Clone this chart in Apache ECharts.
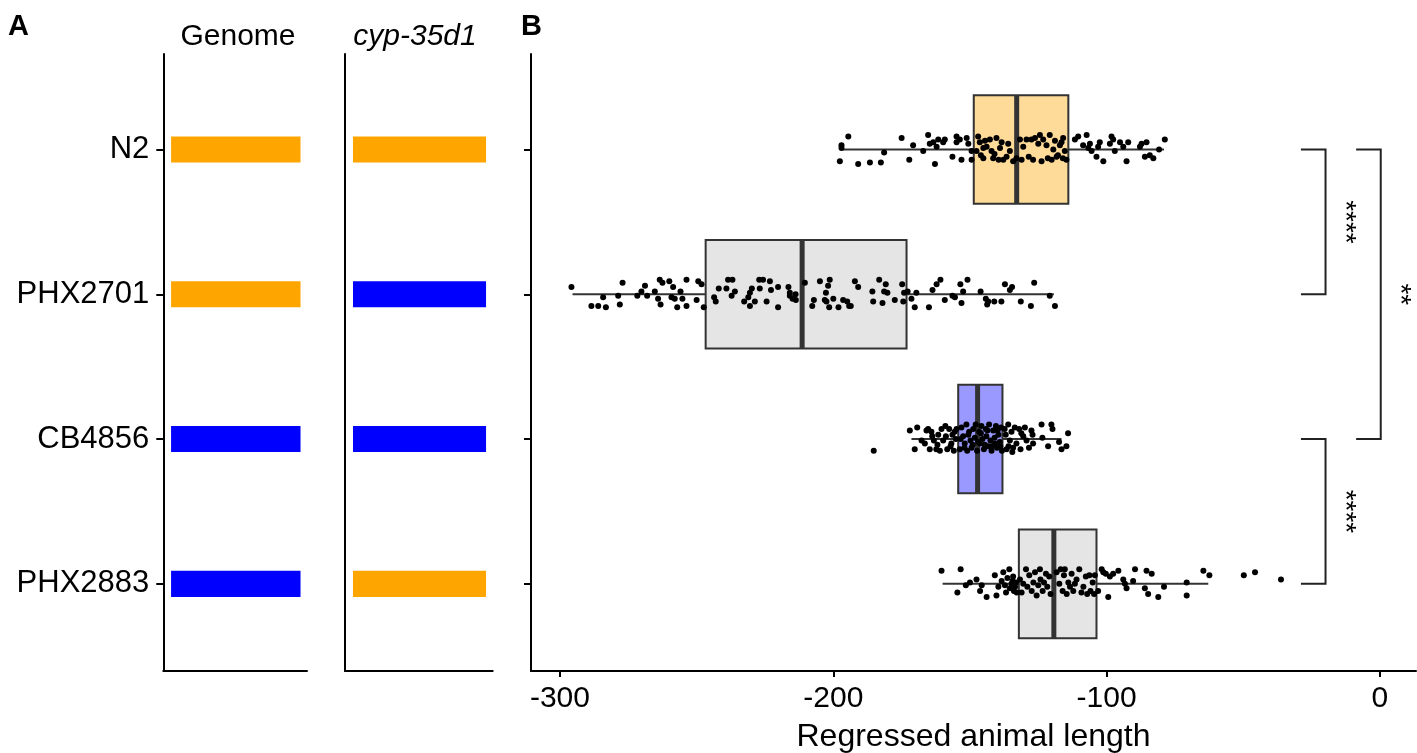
<!DOCTYPE html>
<html>
<head>
<meta charset="utf-8">
<script src="https://cdn.jsdelivr.net/npm/echarts@6/dist/echarts.min.js"></script>
<style>
  html, body { margin: 0; padding: 0; background: #ffffff; }
  #chart { width: 1417px; height: 753px; }
</style>
</head>
<body>
<div id="chart"></div>
<script>
// ---------------- data ----------------
const strains = ['N2', 'PHX2701', 'CB4856', 'PHX2883'];

// background genotype and cyp-35d1 allele for each strain
const genomeAllele = ['N2', 'N2', 'CB4856', 'CB4856'];
const cypAllele = ['N2', 'CB4856', 'CB4856', 'N2'];

// box-plot summary per strain (regressed animal length)
const whiskerLow  = [-196.5, -295.4, -171.4, -160.0];
const quartile1   = [-148.6, -246.7, -154.3, -132.1];
const medianVal   = [-132.9, -211.4, -147.2, -119.3];
const quartile3   = [-114.0, -173.2, -138.1, -103.7];
const whiskerHigh = [-79.0, -119.3, -116.5, -62.8];

// individual animals: [regressed length, vertical jitter in category units]
const ptsN2 = [
  [-197.0,-0.03],[-197.0,-0.01],[-194.5,-0.09],[-197.6,0.08],[-190.9,0.10],[-186.6,0.09],[-182.6,0.09],
  [-181.4,0.02],[-175.0,-0.08],[-172.2,0.07],[-170.8,-0.03],[-167.1,0.01],[-165.3,-0.10],[-164.7,-0.04],
  [-163.4,-0.05],[-162.8,0.10],[-162.2,-0.02],[-161.6,-0.07],[-159.8,-0.05],[-159.2,-0.07],[-156.4,0.05],
  [-154.9,-0.09],[-154.9,-0.05],[-153.7,-0.07],[-153.1,0.07],[-151.2,-0.08],[-150.6,-0.04],[-149.4,0.01],
  [-149.4,0.07],[-147.0,-0.09],[-146.4,-0.05],[-145.1,-0.01],[-143.9,-0.02],[-142.7,-0.07],[-141.5,0.06],
  [-140.3,-0.08],[-139.0,-0.01],[-137.8,0.07],[-136.6,0.05],[-135.4,0.01],[-134.2,0.08],[-131.7,-0.07],
  [-131.1,0.07],[-129.3,-0.07],[-127.5,-0.07],[-126.2,-0.08],[-124.4,-0.10],[-123.8,0.08],[-123.2,-0.07],
  [-122.0,-0.03],[-120.8,-0.10],[-120.1,0.07],[-119.5,0.00],[-118.3,0.05],[-117.1,-0.03],[-115.9,-0.08],
  [-115.3,0.01],[-114.7,0.07],[-116.5,-0.05],[-145.1,0.06],[-142.1,0.01],[-138.4,-0.05],[-147.6,0.01],
  [-146.0,0.04],[-144.5,-0.06],[-141.0,0.03],[-139.5,0.07],[-136.0,-0.04],[-133.0,0.06],[-130.5,-0.02],
  [-128.5,0.05],[-126.9,0.07],[-125.0,-0.04],[-121.5,0.06],[-118.9,-0.06],[-117.8,0.04],[-116.0,0.06],
  [-111.6,-0.07],[-110.4,-0.09],[-108.6,-0.03],[-107.3,-0.10],[-106.7,-0.01],[-106.1,-0.04],[-105.5,0.01],
  [-103.7,0.05],[-103.1,-0.02],[-102.5,-0.05],[-101.2,0.08],[-98.8,-0.04],[-98.2,-0.09],[-97.6,-0.07],
  [-97.0,0.01],[-95.1,-0.05],[-93.9,-0.02],[-92.7,0.08],[-92.1,-0.05],[-87.8,-0.02],[-87.2,-0.04],
  [-86.0,0.05],[-85.4,-0.05],[-84.2,0.04],[-82.9,0.06],[-80.8,0.00],[-78.7,-0.07]
];
const ptsPHX2701 = [
  [-295.8,-0.05],[-288.5,0.08],[-286.0,0.08],[-284.2,0.02],[-283.2,0.09],[-278.7,0.01],[-278.1,0.07],
  [-277.1,-0.08],[-271.7,0.01],[-270.2,-0.02],[-268.9,-0.06],[-268.1,0.01],[-265.3,-0.02],[-264.1,0.03],
  [-263.5,-0.10],[-263.2,0.07],[-262.5,-0.08],[-260.0,-0.09],[-259.2,0.02],[-258.6,-0.05],[-258.0,0.03],
  [-257.1,0.09],[-255.9,-0.02],[-255.2,0.03],[-253.7,-0.10],[-253.7,0.08],[-250.0,0.04],[-249.4,-0.09],
  [-248.2,-0.07],[-247.4,0.09],[-243.6,0.02],[-243.0,0.05],[-241.9,-0.04],[-239.1,-0.04],[-238.5,-0.10],
  [-236.9,-0.10],[-237.2,0.01],[-236.0,-0.02],[-232.6,0.05],[-231.1,0.02],[-230.5,-0.01],[-230.5,0.08],
  [-229.8,-0.04],[-228.7,0.05],[-227.1,-0.10],[-225.7,-0.10],[-226.9,-0.04],[-224.4,0.05],[-223.2,-0.09],
  [-222.8,-0.03],[-220.2,-0.05],[-220.2,0.09],[-216.4,-0.05],[-215.9,-0.01],[-215.9,0.01],[-214.9,0.03],
  [-213.8,0.00],[-213.7,0.04],[-210.4,-0.08],[-207.1,0.04],[-207.7,0.08],[-204.9,-0.09],[-201.3,-0.10],
  [-201.9,-0.06],[-202.7,-0.01],[-203.1,0.04],[-202.5,0.05],[-201.5,0.09],[-200.0,0.03],[-198.1,0.09],
  [-196.4,0.04],[-194.9,0.05],[-194.2,0.08],[-193.6,0.08],[-192.1,-0.09],[-190.9,-0.05],[-185.7,-0.02],
  [-185.4,0.05],[-183.2,-0.10],[-181.4,-0.02],[-180.8,-0.07],[-182.0,0.06],[-180.2,-0.01],[-177.5,0.04],
  [-174.8,-0.07],[-174.4,0.05],[-174.1,-0.01],[-172.8,-0.02],[-171.4,0.03],[-170.2,0.09],[-169.6,-0.01],
  [-165.0,0.09],[-163.7,-0.03],[-162.2,-0.07],[-160.8,-0.10],[-159.2,0.04],[-156.4,0.01],[-155.5,0.02],
  [-153.5,-0.07],[-153.1,0.06],[-152.5,-0.02],[-150.9,-0.10],[-146.1,-0.02],[-144.2,0.03],[-143.7,0.07],
  [-143.3,0.05],[-141.1,0.05],[-138.5,0.05],[-137.2,-0.07],[-135.4,-0.03],[-134.6,-0.05],[-131.4,0.05],
  [-127.7,0.08],[-126.5,-0.08],[-120.8,0.01],[-118.9,0.08]
];
const ptsCB4856 = [
  [-185.2,0.08],[-172.0,-0.06],[-170.2,0.07],[-169.3,-0.08],[-167.7,0.01],[-166.5,0.03],[-165.9,-0.06],
  [-165.3,-0.07],[-164.7,0.07],[-164.1,-0.05],[-163.2,0.01],[-162.3,0.07],[-161.6,-0.03],[-161.0,0.08],
  [-160.4,-0.07],[-159.8,0.01],[-158.8,-0.02],[-158.3,0.07],[-157.6,-0.07],[-157.1,0.05],[-156.4,-0.03],
  [-155.9,0.08],[-155.2,0.00],[-154.9,-0.07],[-153.7,0.07],[-153.1,-0.08],[-152.5,-0.02],[-151.9,0.03],
  [-151.3,-0.10],[-151.0,0.08],[-150.3,-0.05],[-149.8,0.01],[-149.4,0.06],[-148.8,-0.07],[-148.2,-0.01],
  [-147.9,-0.10],[-147.4,0.08],[-146.6,-0.05],[-146.4,0.03],[-145.8,-0.09],[-145.4,0.00],[-144.9,0.07],
  [-144.2,-0.07],[-144.0,-0.02],[-143.3,0.05],[-143.0,-0.10],[-142.5,0.01],[-142.1,0.08],[-141.5,-0.06],
  [-141.0,-0.01],[-140.5,-0.09],[-140.1,0.06],[-139.6,-0.03],[-139.1,0.02],[-138.6,-0.08],[-138.3,0.08],
  [-137.3,-0.07],[-136.6,0.07],[-136.0,-0.10],[-135.4,0.01],[-134.8,-0.05],[-134.2,0.06],[-133.6,-0.08],
  [-133.0,0.03],[-132.0,-0.07],[-131.5,0.07],[-130.5,-0.02],[-129.9,-0.08],[-129.3,0.01],[-127.5,-0.06],
  [-127.1,-0.03],[-126.9,0.03],[-123.8,-0.10],[-123.5,-0.01],[-121.4,0.05],[-120.2,-0.10],[-119.8,-0.07],
  [-117.4,0.02],[-116.5,0.07],[-114.7,0.05],[-114.1,-0.04],
  [-163.8,-0.02],[-161.9,0.04],[-159.0,-0.09],[-156.8,0.03],[-155.6,-0.05],[-153.4,0.00],[-152.0,0.06],
  [-150.6,-0.03],[-149.0,0.04],[-147.0,0.02],[-146.0,-0.04],[-144.6,0.04],[-143.6,-0.06],[-142.0,0.05],
  [-140.8,0.03],[-139.9,-0.06],[-138.9,0.05],[-136.9,-0.03],[-135.9,0.05],[-134.5,0.09],[-131.2,-0.04],
  [-128.4,0.06]
];
const ptsPHX2883 = [
  [-160.4,-0.09],[-154.6,0.06],[-153.4,-0.10],[-151.5,0.01],[-150.0,-0.01],[-147.6,-0.03],[-146.3,0.05],
  [-145.7,0.01],[-143.9,0.09],[-140.9,-0.06],[-140.3,0.08],[-139.6,0.02],[-138.4,-0.02],[-137.8,-0.08],
  [-137.2,0.01],[-136.8,0.06],[-136.3,-0.04],[-135.6,-0.10],[-135.4,0.03],[-134.8,0.00],[-134.4,-0.02],
  [-134.2,-0.05],[-133.9,0.05],[-133.5,0.02],[-133.2,-0.01],[-132.9,0.06],[-131.7,-0.03],[-131.1,0.06],
  [-130.5,0.00],[-129.5,-0.10],[-129.0,0.02],[-128.3,-0.06],[-127.4,0.05],[-126.8,-0.01],[-126.2,-0.08],
  [-125.6,0.08],[-125.0,0.01],[-124.4,-0.10],[-124.2,-0.03],[-123.4,0.05],[-122.9,-0.01],[-122.2,-0.07],
  [-121.7,0.02],[-121.0,-0.05],[-120.5,0.07],[-118.3,-0.08],[-117.3,0.00],[-116.8,-0.10],[-116.1,0.05],
  [-115.6,-0.06],[-115.3,-0.10],[-114.6,0.07],[-114.0,-0.01],[-113.4,0.02],[-112.8,-0.07],[-112.2,0.05],
  [-111.6,0.00],[-111.0,-0.03],[-110.0,-0.10],[-109.2,0.06],[-108.5,0.02],[-107.6,-0.05],[-107.1,0.07],
  [-106.3,-0.06],[-105.9,0.05],[-105.1,-0.01],[-104.6,0.07],[-104.3,-0.06],[-103.1,0.05],[-101.8,-0.10],
  [-101.2,-0.08],[-100.3,-0.07],[-99.4,0.09],[-98.8,-0.05],[-97.6,-0.07],[-95.7,-0.09],[-93.9,-0.03],
  [-93.3,0.00],[-92.7,0.03],[-89.6,-0.10],[-90.3,-0.02],[-86.0,0.03],[-85.4,-0.09],[-84.8,0.07],
  [-83.5,-0.07],[-81.1,0.09],[-79.0,0.02],[-70.7,-0.01],[-70.7,0.08],[-64.6,-0.09],[-62.4,-0.06],
  [-49.8,-0.06],[-45.7,-0.08],[-36.2,-0.03]
];
const animalPoints = [ptsN2, ptsPHX2701, ptsCB4856, ptsPHX2883];

// pairwise comparisons and their significance labels
const comparisons = [['N2', 'PHX2701'], ['N2', 'CB4856'], ['CB4856', 'PHX2883']];
const sigLabels = ['****', '**', '****'];

// x-axis tick values of the length panel
const lengthTicks = [-300, -200, -100, 0];

// ---------------- styling ----------------
const FONT = 'Liberation Sans';
const alleleColor = { N2: '#FFA500', CB4856: '#0000FF' };
const boxFill = ['rgba(255,165,0,0.4)', 'rgba(190,190,190,0.4)', 'rgba(0,0,255,0.4)', 'rgba(190,190,190,0.4)'];
const catMin = 0.340, catMax = 4.602;     // vertical extent in category units
const tileHeight = 0.18;                    // genotype tile thickness (category units)
const boxWidth = 0.75;                      // box thickness (category units)
const bracketLevel = [-19.9, 0.3, -19.9];   // x of the vertical bracket stroke
const bracketArm = 9;                       // length of bracket arms (data units)
const labelShift = 7;                       // label distance right of bracket
const lineColor = '#000';

const catIndex = s => strains.indexOf(s) + 1;

function catYAxis(gridIndex, withTicks, withLabels) {
  return {
    type: 'value', gridIndex, min: catMin, max: catMax, inverse: true,
    axisLine: { show: true, onZero: false, lineStyle: { color: lineColor, width: 2 } },
    axisTick: withTicks ? { show: true, length: 7, customValues: [1, 2, 3, 4], lineStyle: { color: lineColor, width: 2 } } : { show: false },
    axisLabel: withLabels ? {
      show: true, customValues: [1, 2, 3, 4], margin: 14,
      formatter: v => strains[Math.round(v) - 1],
      color: '#000', fontSize: 31, fontFamily: FONT
    } : { show: false },
    splitLine: { show: false }
  };
}

function tileAxis(gridIndex) {
  return {
    type: 'value', gridIndex, min: -0.06, max: 1.05,
    axisLine: { show: true, onZero: false, lineStyle: { color: lineColor, width: 2 } },
    axisTick: { show: false }, axisLabel: { show: false }, splitLine: { show: false }
  };
}

function tileSeries(gridIndex, alleles) {
  return {
    type: 'custom', xAxisIndex: gridIndex, yAxisIndex: gridIndex,
    data: strains.map((s, k) => [k + 1, 0, 1]),
    encode: { y: 0, x: [1, 2] },
    renderItem: (params, api) => {
      const y = api.value(0);
      const p0 = api.coord([api.value(1), y]);
      const p1 = api.coord([api.value(2), y]);
      const h = api.size([0, tileHeight])[1];
      return {
        type: 'rect',
        shape: { x: p0[0], y: p0[1] - h / 2, width: p1[0] - p0[0], height: h },
        style: { fill: alleleColor[alleles[params.dataIndex]] }
      };
    }
  };
}

const scatterData = [];
animalPoints.forEach((pts, k) => pts.forEach(p => scatterData.push([p[0], k + 1 + p[1]])));

const option = {
  backgroundColor: '#ffffff',
  animation: false,
  grid: [
    { left: 163.3, width: 143.7, top: 54, height: 617, outerBoundsMode: 'none', containLabel: false },
    { left: 345, width: 147.7, top: 54, height: 617, outerBoundsMode: 'none', containLabel: false },
    { left: 531, right: 1, top: 54, height: 617, outerBoundsMode: 'none', containLabel: false }
  ],
  xAxis: [
    tileAxis(0),
    tileAxis(1),
    {
      type: 'value', gridIndex: 2, min: -310.6, max: 13.2,
      axisLine: { show: true, onZero: false, lineStyle: { color: lineColor, width: 2 } },
      axisTick: { show: true, length: 6, customValues: lengthTicks, lineStyle: { color: lineColor, width: 2 } },
      axisLabel: { show: true, customValues: lengthTicks, margin: 13, color: '#000', fontSize: 30, fontFamily: FONT },
      splitLine: { show: false },
      name: 'Regressed animal length', nameLocation: 'middle', nameGap: 50,
      nameTextStyle: { color: '#000', fontSize: 32, fontFamily: FONT }
    }
  ],
  yAxis: [catYAxis(0, true, true), catYAxis(1, false, false), catYAxis(2, true, false)],
  graphic: [
    { type: 'text', x: 8, y: 27, style: { text: 'A', fill: '#000', font: 'bold 29px "Liberation Sans"', align: 'left', verticalAlign: 'middle' } },
    { type: 'text', x: 521, y: 27, style: { text: 'B', fill: '#000', font: 'bold 29px "Liberation Sans"', align: 'left', verticalAlign: 'middle' } },
    { type: 'text', x: 238, y: 37, style: { text: 'Genome', fill: '#000', font: '30px "Liberation Sans"', align: 'center', verticalAlign: 'middle' } },
    { type: 'text', x: 415, y: 37, style: { text: 'cyp-35d1', fill: '#000', font: 'italic 30px "Liberation Sans"', align: 'center', verticalAlign: 'middle' } }
  ],
  series: [
    tileSeries(0, genomeAllele),
    tileSeries(1, cypAllele),
    {
      type: 'scatter', xAxisIndex: 2, yAxisIndex: 2,
      data: scatterData, symbol: 'circle', symbolSize: 6,
      itemStyle: { color: '#000', opacity: 1 }, silent: true
    },
    {
      type: 'custom', xAxisIndex: 2, yAxisIndex: 2,
      data: strains.map((s, k) => [k + 1, whiskerLow[k], quartile1[k], medianVal[k], quartile3[k], whiskerHigh[k]]),
      encode: { y: 0, x: [1, 2, 3, 4, 5] },
      renderItem: (params, api) => {
        const c = api.value(0);
        const pt = v => api.coord([v, c]);
        const lo = pt(api.value(1)), a = pt(api.value(2)), m = pt(api.value(3)), b = pt(api.value(4)), hi = pt(api.value(5));
        const y = a[1];
        const half = api.size([0, boxWidth])[1] / 2;
        const edge = { stroke: '#333333', lineWidth: 2 };
        return {
          type: 'group', children: [
            { type: 'line', shape: { x1: lo[0], y1: y, x2: a[0], y2: y }, style: edge },
            { type: 'line', shape: { x1: b[0], y1: y, x2: hi[0], y2: y }, style: edge },
            { type: 'rect', shape: { x: a[0], y: y - half, width: b[0] - a[0], height: half * 2 },
              style: { fill: boxFill[params.dataIndex], stroke: '#333333', lineWidth: 2 } },
            { type: 'line', shape: { x1: m[0], y1: y - half, x2: m[0], y2: y + half }, style: { stroke: '#333333', lineWidth: 5 } }
          ]
        };
      }
    },
    {
      type: 'custom', xAxisIndex: 2, yAxisIndex: 2,
      data: comparisons.map((pair, k) => [catIndex(pair[0]), catIndex(pair[1]), bracketLevel[k]]),
      encode: { y: [0, 1], x: 2 },
      renderItem: (params, api) => {
        const y1 = api.value(0), y2 = api.value(1), xv = api.value(2);
        const p1 = api.coord([xv - bracketArm, y1]);
        const p2 = api.coord([xv, y1]);
        const p3 = api.coord([xv, y2]);
        const p4 = api.coord([xv - bracketArm, y2]);
        const lab = api.coord([xv + labelShift, (y1 + y2) / 2]);
        return {
          type: 'group', children: [
            { type: 'polyline', shape: { points: [p1, p2, p3, p4] }, style: { stroke: '#222', lineWidth: 2, fill: null } },
            { type: 'text', x: lab[0], y: lab[1], rotation: -Math.PI / 2,
              style: { text: sigLabels[params.dataIndex], fill: '#000', font: '28px "Liberation Sans"', align: 'center', verticalAlign: 'middle' } }
          ]
        };
      }
    }
  ]
};

const chart = echarts.init(document.getElementById('chart'), null, { renderer: 'canvas' });
chart.setOption(option);
</script>
</body>
</html>
